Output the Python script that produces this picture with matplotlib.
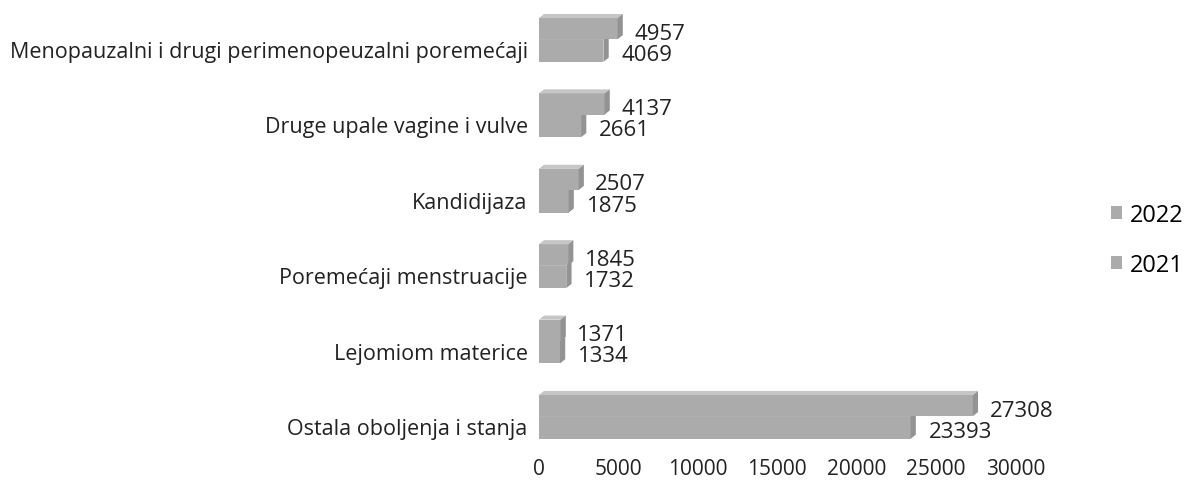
import matplotlib.pyplot as plt
from matplotlib.patches import Polygon, Rectangle, Patch

plt.rcParams['font.family'] = ['Open Sans', 'DejaVu Sans']
plt.rcParams['font.size'] = 14

categories = ['Ostala oboljenja i stanja', 'Lejomiom materice', 'Poremećaji menstruacije',
              'Kandidijaza', 'Druge upale vagine i vulve',
              'Menopauzalni i drugi perimenopeuzalni poremećaji']
v2022 = [27308, 1371, 1845, 2507, 4137, 4957]
v2021 = [23393, 1334, 1732, 1875, 2661, 4069]

front = '#ababab'
top_c = '#c6c6c6'
side_c = '#939393'
dx, dy = 330, 0.055   # fake depth of the 3d bars


def bar3d(ax, y, w, h, z):
    y0 = y - h / 2
    ax.add_patch(Rectangle((0, y0), w, h, facecolor=front, edgecolor='none', zorder=z))
    ax.add_patch(Polygon([(0, y0 + h), (w, y0 + h), (w + dx, y0 + h + dy), (dx, y0 + h + dy)],
                         closed=True, facecolor=top_c, edgecolor='none', zorder=z))
    ax.add_patch(Polygon([(w, y0), (w + dx, y0 + dy), (w + dx, y0 + h + dy), (w, y0 + h)],
                         closed=True, facecolor=side_c, edgecolor='none', zorder=z))


fig = plt.figure(figsize=(11.92, 5.02), dpi=100)
ax = fig.add_axes([0.452, 0.0968, 0.40, 0.8937])

for i in range(len(categories)):
    # 2021 bar sits lower, 2022 bar drawn over its top face
    bar3d(ax, i - 0.02, v2021[i], 0.30, 2)
    bar3d(ax, i + 0.27, v2022[i], 0.28, 3)
    ax.annotate(str(v2022[i]), (v2022[i], i + 0.21), xytext=(12, 0), textcoords='offset points',
                va='center', ha='left', fontsize=16, color='#222222')
    ax.annotate(str(v2021[i]), (v2021[i], i - 0.07), xytext=(13, 0), textcoords='offset points',
                va='center', ha='left', fontsize=16, color='#222222')

ax.set_xlim(0, 30000)
ax.set_ylim(-0.35, 5.6)
ax.set_xticks(range(0, 30001, 5000))
ax.set_yticks(range(len(categories)))
ax.set_yticklabels(categories, fontsize=15.5, color='#222222')
ax.tick_params(axis='x', labelsize=15, colors='#222222', length=0, pad=4)
ax.tick_params(axis='y', length=0, pad=8)
for s in ax.spines.values():
    s.set_visible(False)

handles = [Patch(facecolor=front, label='2022'), Patch(facecolor=front, label='2021')]
fig.legend(handles=handles, loc='center left', bbox_to_anchor=(1102 / 1192, 1 - 241 / 502),
           frameon=False, borderaxespad=0, handlelength=0.45, handleheight=0.45,
           handletextpad=0.35, labelspacing=1.1, fontsize=17)

fig.savefig('out.png', dpi=100)
